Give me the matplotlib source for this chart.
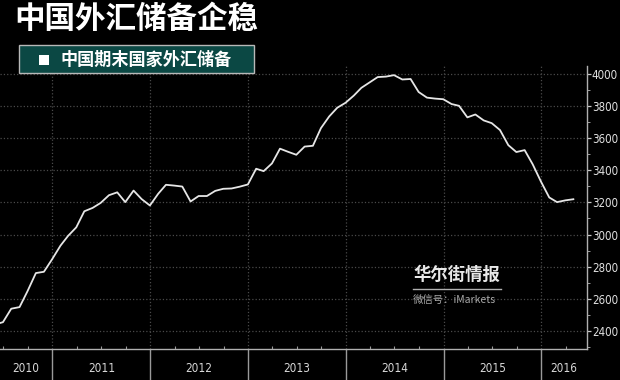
import pandas as pd
import numpy as np
import matplotlib
matplotlib.use('Agg')
import matplotlib.pyplot as plt
import matplotlib.dates as mdates
import matplotlib.transforms as mtransforms
from matplotlib.patches import Rectangle

plt.rcParams['font.family'] = ['Noto Sans CJK SC', 'DejaVu Sans']

# Data: China FX reserves, month end, USD bn
start_month = '2010-05-31'
end_month = '2016-04-30'
reserves = [
    2440, 2454, 2538, 2548, 2648, 2760, 2768, 2847,
    2931, 2991, 3045, 3145, 3166, 3197, 3245, 3263, 3202, 3274, 3221, 3181,
    3254, 3310, 3305, 3299, 3206, 3240, 3240, 3272, 3285, 3287, 3298, 3312,
    3410, 3395, 3443, 3535, 3515, 3497, 3548, 3553, 3663, 3736, 3790, 3821,
    3866, 3914, 3948, 3981, 3984, 3993, 3966, 3969, 3888, 3853, 3847, 3843,
    3813, 3802, 3730, 3748, 3711, 3694, 3651, 3557, 3514, 3526, 3438, 3330,
    3231, 3202, 3213, 3220,
]
dates = pd.date_range(start_month, end_month, freq='ME')

title = '中国外汇储备企稳'
legend_label = '中国期末国家外汇储备'
years = [2010, 2011, 2012, 2013, 2014, 2015, 2016]
y_ticks = [2400, 2600, 2800, 3000, 3200, 3400, 3600, 3800, 4000]

x_left = pd.Timestamp('2010-06-19')
x_right = pd.Timestamp('2016-06-20')

# Figure
fig = plt.figure(figsize=(6.2, 3.8), dpi=100, facecolor='black')
ax = fig.add_axes([0.0, 31 / 380, 587 / 620, 283 / 380], facecolor='black')

ax.plot(dates, reserves, color='#e6e6e6', linewidth=1.3)

ax.set_xlim(x_left, x_right)
ax.set_ylim(2287, 4050)

# x axis: year separators and quarter ticks
ax.xaxis.set_major_locator(mdates.YearLocator())
ax.xaxis.set_minor_locator(mdates.MonthLocator(bymonth=[1, 4, 7, 10]))
ax.xaxis.set_major_formatter(plt.NullFormatter())
ax.tick_params(axis='x', which='major', direction='out', length=23,
               width=1.0, color='#9a9a9a')
ax.tick_params(axis='x', which='minor', direction='in', length=2.5,
               width=0.8, color='#9a9a9a')

lab_font = 'DejaVu Sans'
trans = mtransforms.blended_transform_factory(ax.transData, ax.transAxes)
for yr in years:
    a = max(pd.Timestamp(f'{yr}-01-01'), x_left)
    b = min(pd.Timestamp(f'{yr + 1}-01-01'), x_right)
    mid = a + (b - a) / 2
    ax.text(mid, -0.068, str(yr), transform=trans, ha='center', va='center',
            color='#d8d8d8', fontsize=8.5, family=lab_font, fontstretch='condensed')

# y axis on the right
ax.yaxis.tick_right()
ax.set_yticks(y_ticks)
ax.set_yticks(np.arange(2300, 4100, 100), minor=True)
ax.tick_params(axis='y', which='major', direction='out', length=3,
               width=0.9, color='#c8c8c8', labelcolor='#e0e0e0', pad=0.5)
ax.tick_params(axis='y', which='minor', direction='out', length=2,
               width=0.7, color='#9a9a9a')
for lab in ax.get_yticklabels():
    lab.set_fontsize(8.3)
    lab.set_family(lab_font)
    lab.set_fontstretch('condensed')

ax.grid(which='major', color='#4a4a4a', linestyle=':', linewidth=0.9)

for s in ['left', 'top']:
    ax.spines[s].set_visible(False)
for s in ['bottom', 'right']:
    ax.spines[s].set_color('#b0b0b0')
    ax.spines[s].set_linewidth(1.0)

# Title
fig.text(14 / 620, 1 - 19 / 380, title, color='white', fontsize=22,
         fontweight='black', ha='left', va='center')

# Legend box
fig.patches.append(Rectangle((19 / 620, 1 - 73 / 380), 235 / 620, 28 / 380,
                             transform=fig.transFigure, facecolor='#0b4844',
                             edgecolor='#b8b8b8', linewidth=1.0))
fig.patches.append(Rectangle((39 / 620, 1 - 65 / 380), 10 / 620, 10 / 380,
                             transform=fig.transFigure, facecolor='white',
                             edgecolor='none'))
fig.text(61 / 620, 1 - 59.5 / 380, legend_label, color='white', fontsize=12.3,
         fontweight='black', ha='left', va='center')

# Watermark
fig.text(413 / 620, 1 - 275 / 380, '华尔街情报', color='#e8e8e8', fontsize=12.5,
         fontweight='black', ha='left', va='center')
fig.lines.append(plt.Line2D([413 / 620, 501 / 620], [1 - 289 / 380, 1 - 289 / 380],
                            transform=fig.transFigure, color='#b0b0b0', linewidth=1.0))
fig.text(413 / 620, 1 - 300 / 380, '微信号：iMarkets', color='#a8a8a8', fontsize=7.5,
         ha='left', va='center')

fig.savefig('out.png', dpi=100, facecolor='black')
